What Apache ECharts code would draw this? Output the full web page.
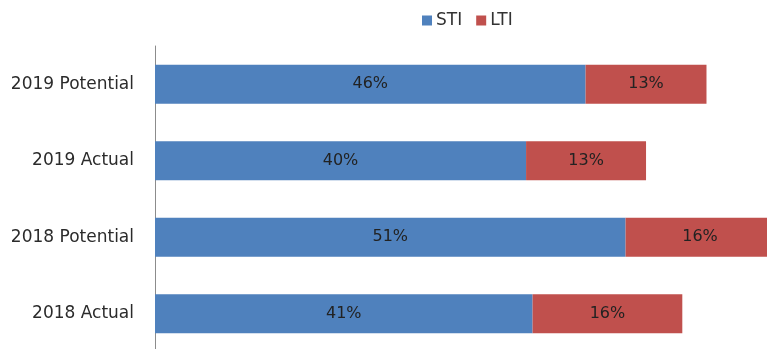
<!DOCTYPE html>
<html>
<head>
<meta charset="utf-8">
<script src="https://cdn.jsdelivr.net/npm/echarts@6/dist/echarts.min.js"></script>
<style>html,body{margin:0;padding:0;background:#fff;}#c{width:767px;height:349px;}</style>
</head>
<body>
<div id="c"></div>
<script>
var categories = ['2018 Actual', '2018 Potential', '2019 Actual', '2019 Potential'];
var stiValues = [40.6, 50.6, 39.9, 46.3];
var ltiValues = [16.1, 16.0, 12.9, 13.0];
var seriesNames = ['STI', 'LTI'];

var font = '"DejaVu Sans", sans-serif';
var chart = echarts.init(document.getElementById('c'), null, {renderer: 'canvas'});
function lbl(p) { return Math.round(p.value) + '%'; }
chart.setOption({
  animation: false,
  legend: {
    data: seriesNames,
    top: 12,
    left: 422,
    padding: 0,
    itemWidth: 10,
    itemHeight: 10,
    itemGap: 14,
    icon: 'rect',
    textStyle: {fontFamily: font, fontSize: 17, color: '#333', padding: [2, 0, 0, -1]}
  },
  grid: {left: 155, width: 651, top: 46, bottom: -3, containLabel: false, outerBoundsMode: 'none'},
  xAxis: {
    type: 'value', min: 0, max: 70, show: false
  },
  yAxis: {
    type: 'category',
    data: categories,
    axisLine: {show: true, lineStyle: {color: '#8c8c8c', width: 1}},
    axisTick: {show: false},
    axisLabel: {fontFamily: font, fontSize: 17, color: '#2b2b2b', margin: 21}
  },
  series: [
    {
      name: seriesNames[0], type: 'bar', stack: 'a', data: stiValues, barWidth: 39,
      itemStyle: {color: '#4F81BD'},
      label: {show: true, position: 'inside', formatter: lbl, fontFamily: font, fontSize: 16, color: '#222'}
    },
    {
      name: seriesNames[1], type: 'bar', stack: 'a', data: ltiValues, barWidth: 39,
      itemStyle: {color: '#C0504D'},
      label: {show: true, position: 'inside', formatter: lbl, fontFamily: font, fontSize: 16, color: '#222'}
    }
  ]
});
</script>
</body>
</html>
